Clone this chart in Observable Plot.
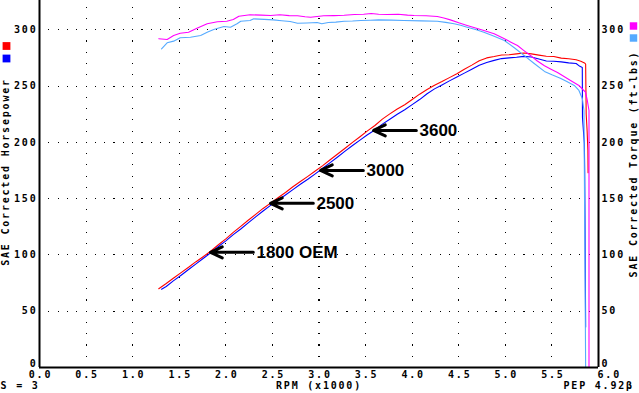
<!DOCTYPE html>
<html><head><meta charset="utf-8">
<script src="https://cdn.jsdelivr.net/npm/d3@7"></script>
<script src="https://cdn.jsdelivr.net/npm/@observablehq/plot@0.6"></script>
<style>
html,body{margin:0;padding:0;background:#fff;}
svg{display:block;}
.mono text{letter-spacing:1.8px;}
</style></head><body><div id="chart"></div>
<script>
// ---- data ----
const redRpm = [1.28,1.36,1.44,1.52,1.60,1.68,1.76,1.84,1.92,2.00,2.08,2.16,2.24,2.32,2.40,2.48,2.56,2.64,2.72,2.80,2.88,2.96,3.04,3.12,3.20,3.28,3.36,3.44,3.52,3.60,3.68,3.76,3.84,3.92,4.00,4.08,4.16,4.24,4.32,4.40,4.48,4.56,4.64,4.72,4.80,4.88,4.96,5.04,5.12,5.20,5.28,5.36,5.44,5.52,5.60,5.68,5.76,5.81,5.85,5.862,5.868,5.878,5.886,5.888];
const redHp  = [70.0,74.6,79.5,84.3,89.0,94.0,98.6,103.5,109.0,114.2,120.0,125.3,130.8,136.0,141.3,146.0,150.8,155.5,160.6,165.2,169.8,174.5,179.3,184.5,189.6,194.8,200.0,205.0,210.2,215.0,220.6,225.3,229.6,233.4,238.0,242.8,247.0,250.8,254.0,257.5,261.0,265.0,268.6,272.4,275.0,276.2,277.6,277.8,278.6,279.3,278.6,277.5,276.5,276.2,274.8,274.2,273.4,272.0,270.5,269.5,225.0,210.0,193.0,173.0];

const blueRpm = [1.31,1.36,1.44,1.52,1.60,1.68,1.76,1.84,1.92,2.00,2.08,2.16,2.24,2.32,2.40,2.48,2.56,2.64,2.72,2.80,2.88,2.96,3.04,3.12,3.20,3.28,3.36,3.44,3.52,3.60,3.68,3.76,3.84,3.92,4.00,4.08,4.16,4.24,4.32,4.40,4.48,4.56,4.64,4.72,4.80,4.88,4.96,5.04,5.12,5.20,5.28,5.36,5.44,5.52,5.60,5.68,5.76,5.80,5.826,5.828,5.848,5.852,5.862];
const blueHp  = [69.5,72.0,77.2,82.0,87.0,92.0,97.0,102.0,107.5,112.5,118.0,123.0,128.5,133.8,139.0,144.0,148.5,153.2,158.0,162.8,167.2,172.0,177.0,182.0,187.0,192.2,197.2,202.0,206.8,211.0,216.2,220.5,225.0,229.0,233.5,238.0,243.2,247.5,251.0,254.6,258.0,261.5,265.0,268.5,271.0,272.8,274.4,275.0,275.6,276.4,275.8,274.0,272.2,272.0,271.5,270.6,270.0,267.5,266.5,222.0,199.0,174.0,36.0];

const magRpm = [1.28,1.37,1.44,1.51,1.60,1.69,1.80,1.91,2.01,2.08,2.14,2.26,2.38,2.48,2.58,2.68,2.77,2.85,2.91,2.98,3.05,3.16,3.27,3.38,3.48,3.56,3.64,3.73,3.85,3.95,4.02,4.15,4.27,4.34,4.41,4.50,4.59,4.68,4.77,4.88,4.99,5.06,5.13,5.20,5.27,5.34,5.42,5.49,5.56,5.63,5.70,5.79,5.86,5.88,5.898,5.898];
const magTq  = [292.0,291.4,294.9,296.9,297.8,301.4,305.3,307.1,307.6,309.1,312.0,313.3,313.0,312.7,313.4,312.6,312.4,311.5,311.1,311.8,312.4,312.6,312.9,313.6,313.8,314.5,313.8,313.5,313.8,313.0,312.7,312.5,311.8,310.5,308.8,306.2,303.8,301.5,299.3,296.4,292.0,289.0,286.0,281.5,277.2,272.5,268.0,265.0,262.0,258.5,255.0,250.5,244.6,237.2,228.3,0];

const ltbRpm = [1.31,1.37,1.44,1.51,1.62,1.73,1.80,1.87,1.98,2.05,2.12,2.16,2.26,2.30,2.41,2.51,2.60,2.69,2.77,2.87,2.98,3.03,3.10,3.18,3.27,3.36,3.45,3.55,3.64,3.78,3.91,4.10,4.27,4.36,4.45,4.52,4.59,4.68,4.77,4.88,4.99,5.10,5.20,5.31,5.42,5.50,5.59,5.66,5.74,5.79,5.827,5.844,5.862];
const ltbTq  = [283.1,288.4,289.9,292.9,293.4,294.9,297.8,300.2,302.9,302.3,305.3,307.6,308.2,309.7,309.2,308.8,308.0,307.3,305.8,306.0,306.4,305.3,306.5,306.8,307.6,307.8,308.2,308.5,308.8,308.6,308.2,307.9,307.6,306.6,305.3,304.0,302.3,300.2,297.8,294.2,290.5,283.8,277.2,270.0,263.0,260.0,257.0,254.0,250.5,246.1,238.7,228.3,0];

const annLabels = ["1800 OEM","2500","3000","3600"];
const annRpm = [1.835,2.479,3.016,3.585];
const annHp  = [102.3,145.8,175.1,210.6];

const xTickValues = [0,0.5,1,1.5,2,2.5,3,3.5,4,4.5,5,5.5,6];
const xTickLabels = ["0.0","0.5","1.0","1.5","2.0","2.5","3.0","3.5","4.0","4.5","5.0","5.5","6.0"];
const yTickValues = [0,50,100,150,200,250,300];
const yTickLabels = ["0","50","100","150","200","250","300"];

// ---- build tables ----
const rows = (xs, ys) => xs.map((x, i) => ({x, y: ys[i]}));
const red = rows(redRpm, redHp), blue = rows(blueRpm, blueHp);
const mag = rows(magRpm, magTq), ltb = rows(ltbRpm, ltbTq);
const ann = annLabels.map((label, i) => ({label, x: annRpm[i], y: annHp[i]}));
const xT = xTickValues.map((v, i) => ({v, t: xTickLabels[i]}));
const yT = yTickValues.map((v, i) => ({v, t: yTickLabels[i]}));

// dotted grid (style, not data)
const gridPts = [];
for (let i = 1; i <= 11; i++) for (let j = 1; j <= 32; j++) gridPts.push({x: i * 0.5, y: j * 10});
for (let j = 1; j <= 6; j++) for (let i = 1; i <= 59; i++) gridPts.push({x: i * 0.1, y: j * 50});

const MONO = "DejaVu Sans Mono";
const monoOpts = {fontFamily: MONO, fontWeight: "bold", fontSize: 10, fill: "black", className: "mono", lineAnchor: "middle"};

const chart = Plot.plot({
  width: 639, height: 393,
  marginLeft: 39, marginRight: 41, marginTop: 0, marginBottom: 26,
  x: {domain: [0, 6], axis: null},
  y: {domain: [0, 326], axis: null},
  style: {background: "white", overflow: "visible"},
  marks: [
    Plot.dot(gridPts, {x: "x", y: "y", r: 0.62, symbol: "square", fill: "black", stroke: null, shapeRendering: "crispEdges"}),
    Plot.line(red, {x: "x", y: "y", stroke: "#ff0000", strokeWidth: 1.1}),
    Plot.line(blue, {x: "x", y: "y", stroke: "#0000ff", strokeWidth: 1.1}),
    Plot.line(mag, {x: "x", y: "y", stroke: "#ff00ff", strokeWidth: 1.1}),
    Plot.line(ltb, {x: "x", y: "y", stroke: "#55aaff", strokeWidth: 1.1}),
    Plot.ruleX([0, 6], {stroke: "black", strokeWidth: 2}),
    Plot.ruleY([0], {stroke: "black", strokeWidth: 2}),
    // y tick labels left & right
    Plot.text(yT.filter(d => d.v > 0), {x: 0, y: "v", text: "t", textAnchor: "end", dx: -2, ...monoOpts}),
    Plot.text(yT.filter(d => d.v === 0), {x: 0, y: "v", text: "t", textAnchor: "end", dx: -2, dy: -4, ...monoOpts}),
    Plot.text(yT.filter(d => d.v > 0), {x: 6, y: "v", text: "t", textAnchor: "start", dx: 3, ...monoOpts}),
    Plot.text(yT.filter(d => d.v === 0), {x: 6, y: "v", text: "t", textAnchor: "start", dx: 3, dy: -4, ...monoOpts}),
    // x tick labels
    Plot.text(xT.filter(d => d.v < 6), {x: "v", y: 0, text: "t", textAnchor: "middle", dy: 7, dx: 1, ...monoOpts}),
    Plot.text(xT.filter(d => d.v === 6), {x: "v", y: 0, text: "t", dy: 7, dx: -1, textAnchor: "start", ...monoOpts}),
    // axis titles & footer
    Plot.text(["SAE Corrected Horsepower"], {frameAnchor: "left", dx: -34, dy: -12, rotate: -90, textAnchor: "middle", ...monoOpts}),
    Plot.text(["SAE Corrected Torque (ft-lbs)"], {frameAnchor: "right", dx: 35, dy: -20, rotate: -90, textAnchor: "middle", ...monoOpts}),
    Plot.text(["S = 3"], {frameAnchor: "bottom-left", dx: -39, dy: 18, textAnchor: "start", ...monoOpts}),
    Plot.text(["RPM (x1000)"], {frameAnchor: "bottom", dy: 18, textAnchor: "middle", ...monoOpts}),
    Plot.text(["PEP 4.92β"], {frameAnchor: "bottom-right", dx: -35, dy: 18, textAnchor: "start", ...monoOpts}),
    // legend squares
    Plot.dot(["#ff0000"], {frameAnchor: "top-left", dx: -33, dy: 45.5, r: 4.4, symbol: "square", fill: d => d, stroke: null}),
    Plot.dot(["#0000ff"], {frameAnchor: "top-left", dx: -33, dy: 58, r: 4.4, symbol: "square", fill: d => d, stroke: null}),
    Plot.dot(["#ff00ff"], {frameAnchor: "top-right", dx: 35, dy: 25.5, r: 4.2, symbol: "square", fill: d => d, stroke: null}),
    Plot.dot(["#55aaff"], {frameAnchor: "top-right", dx: 35, dy: 37.5, r: 4.2, symbol: "square", fill: d => d, stroke: null}),
    // annotations
    Plot.arrow(ann, {x1: d => d.x + 0.46, y1: "y", x2: "x", y2: "y", stroke: "black", strokeWidth: 3, headLength: 6.5, headAngle: 50}),
    Plot.text(ann, {x: "x", y: "y", text: "label", dx: 46, textAnchor: "start", fontFamily: "Liberation Sans, Arial, sans-serif", fontWeight: "bold", fontSize: 17, fill: "black"})
  ]
});
document.getElementById("chart").append(chart);
</script>
</body></html>
